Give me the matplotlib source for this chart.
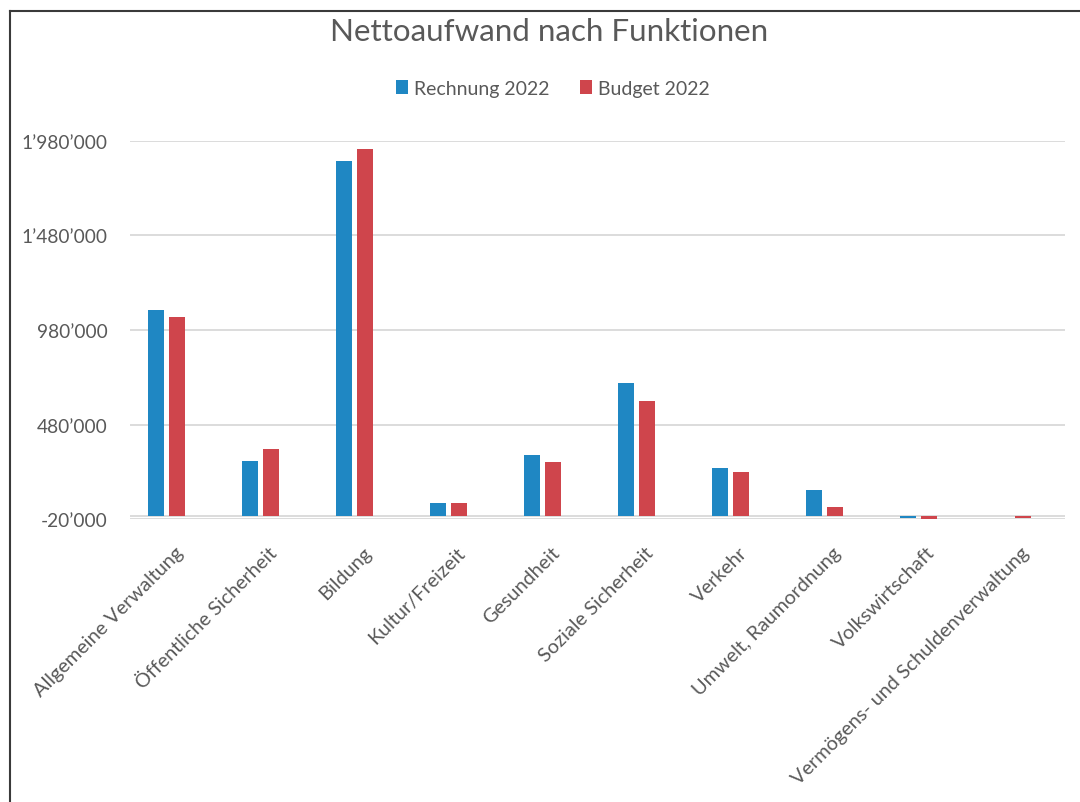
import matplotlib.pyplot as plt
import matplotlib.transforms as mtransforms
from matplotlib.lines import Line2D
from matplotlib.ticker import FuncFormatter
import numpy as np

categories = ['Allgemeine Verwaltung', 'Öffentliche Sicherheit', 'Bildung',
              'Kultur/Freizeit', 'Gesundheit', 'Soziale Sicherheit', 'Verkehr',
              'Umwelt, Raumordnung', 'Volkswirtschaft',
              'Vermögens- und Schuldenverwaltung']
rechnung = [1087000, 286000, 1873000, 68000, 320000, 698000, 251000, 136000, -12000, 0]
budget = [1049000, 351000, 1936000, 68000, 283000, 603000, 231000, 43000, -16000, -12000]
yticks = [-20000, 480000, 980000, 1480000, 1980000]

blue = '#1f87c3'
red = '#cf454c'
grey = '#595959'

plt.rcParams['font.family'] = ['Lato', 'DejaVu Sans']

def swiss(v, pos):
    s = f'{int(v):,}'.replace(',', '\u2019')
    return s

fig = plt.figure(figsize=(10.8, 8.03), dpi=100)
ax = fig.add_axes([130/1080, 1-520.3/803, 935/1080, (520.3-141.7)/803])

x = np.arange(len(categories))
w = 0.176
off = 0.112
ax.bar(x - off, rechnung, w, color=blue, label='Rechnung 2022', zorder=3)
ax.bar(x + off, budget, w, color=red, label='Budget 2022', zorder=3)

ax.set_xlim(-0.388, 9.559)
ax.set_ylim(-20000, 1980000)
ax.set_yticks(yticks)
ax.yaxis.set_major_formatter(FuncFormatter(swiss))
ax.grid(axis='y', color='#d9d9d9', linewidth=1.3, zorder=0)
ax.axhline(0, color='#d9d9d9', linewidth=1.3, zorder=1)
for s in ax.spines.values():
    s.set_visible(False)
ax.tick_params(axis='y', length=0, pad=16, labelsize=13.8, labelcolor=grey)
ax.tick_params(axis='x', length=0, pad=0, labelsize=14.3, labelcolor=grey)

ax.set_xticks(x)
ax.set_xticklabels(categories, rotation=45, ha='right', va='top', rotation_mode='anchor')
shift = mtransforms.ScaledTranslation(0.08, -0.24, fig.dpi_scale_trans)
for lab in ax.get_xticklabels():
    lab.set_transform(lab.get_transform() + shift)

fig.text(549/1080, 1-32/803, 'Nettoaufwand nach Funktionen', ha='center', va='center',
         fontsize=22.6, color=grey)
fig.legend(loc='center', bbox_to_anchor=(553/1080, 1-89/803), ncol=2, frameon=False,
           fontsize=14, labelcolor=grey, handlelength=0.6, handleheight=0.7,
           handletextpad=0.3, columnspacing=1.6)

fig.add_artist(Line2D([10/1080, 1], [1-12/803, 1-12/803], color='#3a3a3a', linewidth=1.5))
fig.add_artist(Line2D([10/1080, 10/1080], [0, 1-12/803], color='#3a3a3a', linewidth=1.5))

fig.savefig('out.png', dpi=100)
